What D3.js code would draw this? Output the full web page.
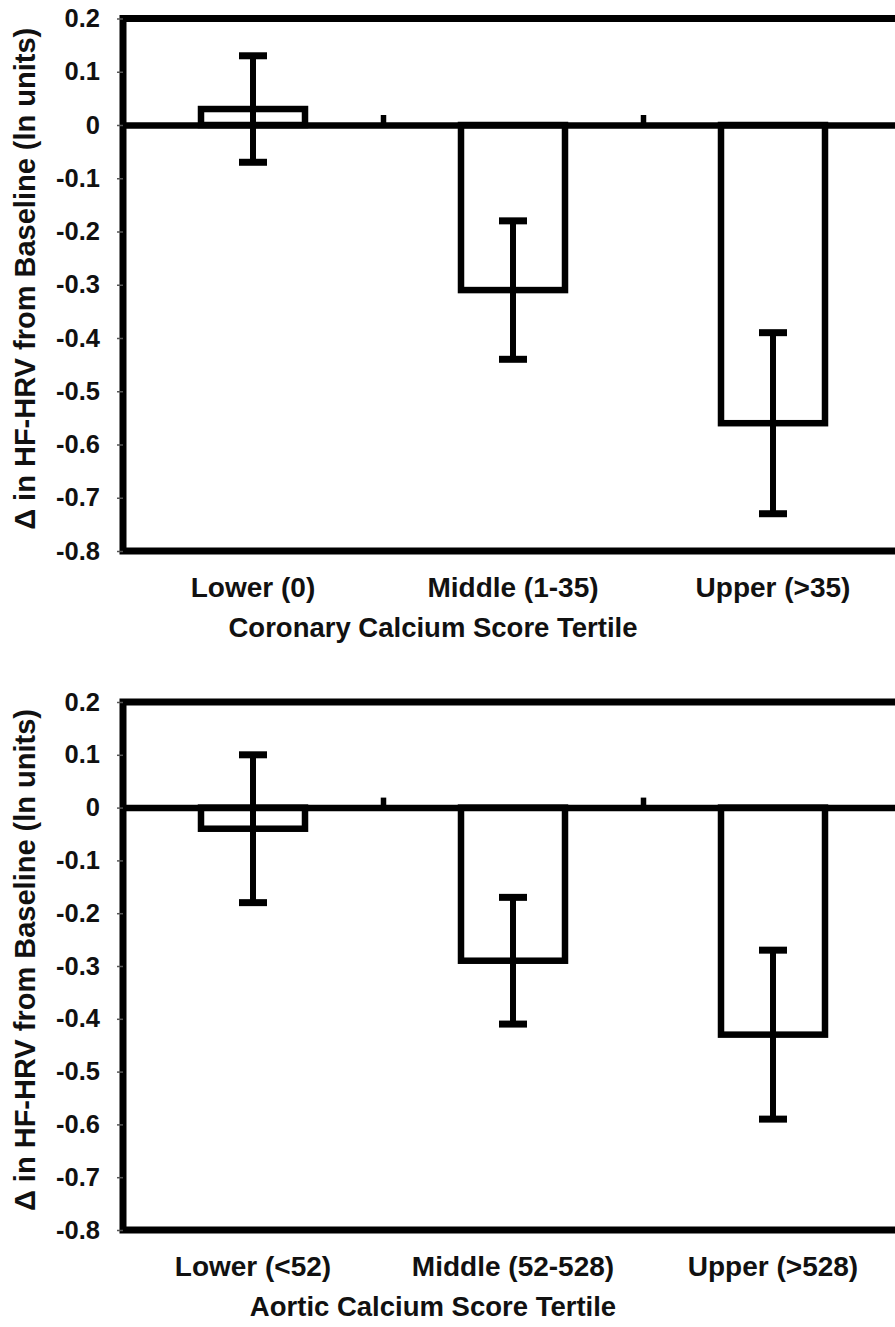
<!DOCTYPE html>
<html lang="en">
<head>
    <meta charset="UTF-8">
    <title>HF-HRV by calcium score tertile</title>
    <script src="https://cdn.jsdelivr.net/npm/d3@7/dist/d3.min.js"></script>
    <style>
        body { margin: 0; background: #fff; }
        text { font-family: "Liberation Sans", Arial, sans-serif; font-weight: bold; fill: #111; }
    </style>
</head>
<body>
<script>
    // data
    const yTicks = [0.2, 0.1, 0, -0.1, -0.2, -0.3, -0.4, -0.5, -0.6, -0.7, -0.8];

    const coronaryCats = ['Lower (0)', 'Middle (1-35)', 'Upper (>35)'];
    const coronaryMean = [0.03, -0.31, -0.56];
    const coronaryHi = [0.13, -0.18, -0.39];
    const coronaryLo = [-0.07, -0.44, -0.73];

    const aorticCats = ['Lower (<52)', 'Middle (52-528)', 'Upper (>528)'];
    const aorticMean = [-0.04, -0.29, -0.43];
    const aorticHi = [0.10, -0.17, -0.27];
    const aorticLo = [-0.18, -0.41, -0.59];

    const yTitle = 'Δ in HF-HRV from Baseline (ln units)';

    const svg = d3.select('body').append('svg')
        .attr('width', 895)
        .attr('height', 1327);

    const left = 123, right = 903;

    function drawPanel(top, bottom, cats, mean, hi, lo, xTitle) {
        let g = svg.append('g');

        let y = d3.scaleLinear().domain([-0.8, 0.2]).range([bottom, top]);
        let x = d3.scaleBand().domain(cats).range([left, right])
            .paddingInner(0.6).paddingOuter(0.3);
        let xIdx = d3.scaleLinear().domain([0, cats.length]).range([left, right]);

        // frame
        g.append('rect')
            .attr('x', left).attr('y', top)
            .attr('width', right - left).attr('height', bottom - top)
            .attr('fill', 'none').attr('stroke', '#000').attr('stroke-width', 7);

        // y axis (plain hyphen for negatives, like the original)
        let ya = g.append('g')
            .attr('transform', `translate(${left},0)`)
            .call(d3.axisLeft(y).tickValues(yTicks).tickSize(6).tickPadding(17)
                .tickFormat(d => d === 0 ? '0' : d.toFixed(1)));
        ya.select('.domain').remove();
        ya.selectAll('line').attr('stroke', '#555').attr('stroke-width', 1.5);
        ya.selectAll('text').style('font-size', '25.5px')
            .style('font-family', '"Liberation Sans", Arial, sans-serif')
            .style('font-weight', 'bold').attr('fill', '#111');

        // bars
        let rows = cats.map((c, i) => ({c: c, v: mean[i], hi: hi[i], lo: lo[i]}));
        g.selectAll('rect.bar').data(rows).join('rect')
            .attr('class', 'bar')
            .attr('x', d => x(d.c))
            .attr('width', x.bandwidth())
            .attr('y', d => Math.min(y(0), y(d.v)))
            .attr('height', d => Math.abs(y(d.v) - y(0)))
            .attr('fill', '#fff')
            .attr('stroke', '#000')
            .attr('stroke-width', 6.5);

        // zero line with category boundary ticks
        let xa = g.append('g')
            .attr('transform', `translate(0,${y(0)})`)
            .call(d3.axisBottom(xIdx).tickValues(d3.range(1, cats.length))
                .tickSizeInner(-10).tickSizeOuter(0).tickFormat(''));
        xa.select('.domain').attr('stroke', '#000').attr('stroke-width', 6.5);
        xa.selectAll('line').attr('stroke', '#000').attr('stroke-width', 5.5);

        // error bars
        let cx = d => x(d.c) + x.bandwidth() / 2;
        g.selectAll('line.err').data(rows).join('line')
            .attr('class', 'err')
            .attr('x1', cx).attr('x2', cx)
            .attr('y1', d => y(d.hi)).attr('y2', d => y(d.lo))
            .attr('stroke', '#000').attr('stroke-width', 6);
        ['hi', 'lo'].forEach(k => {
            g.selectAll('line.cap-' + k).data(rows).join('line')
                .attr('class', 'cap-' + k)
                .attr('x1', d => cx(d) - 14).attr('x2', d => cx(d) + 14)
                .attr('y1', d => y(d[k])).attr('y2', d => y(d[k]))
                .attr('stroke', '#000').attr('stroke-width', 7);
        });

        // category labels
        g.selectAll('text.cat').data(cats).join('text')
            .attr('class', 'cat')
            .attr('x', d => x(d) + x.bandwidth() / 2)
            .attr('y', bottom + 46)
            .attr('text-anchor', 'middle')
            .style('font-size', '28px')
            .text(d => d);

        g.append('text')
            .attr('x', 433)
            .attr('y', bottom + 86)
            .attr('text-anchor', 'middle')
            .style('font-size', '27.5px')
            .text(xTitle);

        g.append('text')
            .attr('transform', `translate(35,${(top + bottom) / 2 - 6}) rotate(-90)`)
            .attr('text-anchor', 'middle')
            .style('font-size', '29px')
            .text(yTitle);
    }

    drawPanel(18.5, 551, coronaryCats, coronaryMean, coronaryHi, coronaryLo, 'Coronary Calcium Score Tertile');
    drawPanel(702, 1230, aorticCats, aorticMean, aorticHi, aorticLo, 'Aortic Calcium Score Tertile');
</script>
</body>
</html>
